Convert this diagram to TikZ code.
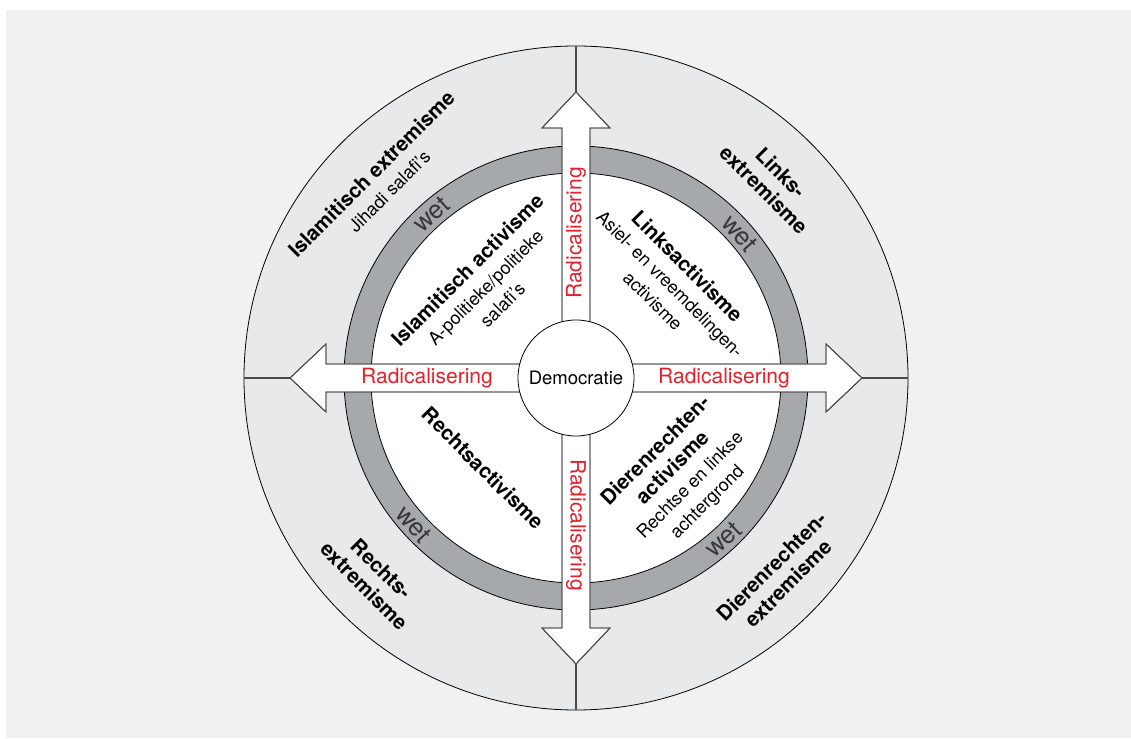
\documentclass[tikz,border=0pt]{standalone}
\usepackage{fontspec}
\setmainfont{TeX Gyre Heros}

\definecolor{bgGray}{HTML}{F0F1F0}
\definecolor{ringLight}{HTML}{E8E9EA}
\definecolor{ringDark}{HTML}{A6A9AC}
\definecolor{radRed}{HTML}{E5202B}
\definecolor{edgeGray}{HTML}{4A4A4A}

\newcommand{\labelbold}{\fontsize{20.5}{24}\selectfont\bfseries}
\newcommand{\labelsub}{\fontsize{18}{21}\selectfont\mdseries}

\tikzset{
	ringline/.style={draw=black, line width=0.8pt},
	armbox/.style={draw=edgeGray, fill=white, line width=0.9pt, line join=miter},
	divider/.style={draw=edgeGray, line width=1.2pt},
	block/.style={align=center, inner sep=0pt, font=\labelbold},
	wetlabel/.style={font=\fontsize{25.5}{25.5}\selectfont, text=black!78, inner sep=0pt},
	radlabel/.style={font=\fontsize{21}{21}\selectfont, text=radRed, inner sep=0pt}
}

\begin{document}
\begin{tikzpicture}[x=1pt, y=1pt]
	\useasboundingbox (-576,-360) rectangle (555,378);
	\fill[bgGray] (-570,-360) rectangle (555,368);

	\draw[ringline, fill=ringLight] (0,0) circle (332);
	\draw[ringline, fill=ringDark] (0,0) circle (232);
	\draw[ringline, fill=white] (0,0) circle (205);

	\foreach \a/\n in {90/N,180/W,0/E,270/S}{%
		\coordinate (tip-\n) at (\a:286);
		\coordinate (rim-\n) at (\a:332);
		\draw[divider] (tip-\n) -- (rim-\n);
		\fill[armbox, rotate=\a] (40,-14) -- (250,-14) -- (250,-34) -- (286,0) -- (250,34) -- (250,14) -- (40,14) -- cycle;
		\draw[armbox, fill=none, rotate=\a] (40,-14) -- (250,-14) -- (250,-34) -- (286,0) -- (250,34) -- (250,14) -- (40,14);
	}

	\node[circle, draw=black, line width=0.8pt, fill=white, minimum size=116pt, inner sep=0pt,
		font=\fontsize{18.5}{18.5}\selectfont] (demo) at (0,0) {Democratie};

	\node[radlabel, rotate=90] (rad-N) at (0,145) {Radicalisering};
	\node[radlabel] (rad-W) at (-149,0) {Radicalisering};
	\node[radlabel] (rad-E) at (148,0) {Radicalisering};
	\node[radlabel, rotate=-90] (rad-S) at (0,-147) {Radicalisering};

	\node[wetlabel, rotate=41.4] (wet-NW) at (131.4:218.5) {wet};
	\node[wetlabel, rotate=-48.6] (wet-NE) at (41.4:218.5) {wet};
	\node[wetlabel, rotate=-48] (wet-SW) at (222:218.5) {wet};
	\node[wetlabel, rotate=42.4] (wet-SE) at (-47.6:218.5) {wet};

	\node[block, rotate=45] (isl-ext) at (135:277) {Islamitisch extremisme\\ \labelsub Jihadi salafi's};
	\node[block, rotate=45] (isl-act) at (135:129) {Islamitisch activisme\\ \labelsub A-politieke/politieke\\ \labelsub salafi's};
	\node[block, rotate=-45] (links-ext) at (45:278.5) {Links-\\ extremisme};
	\node[block, rotate=-45] (links-act) at (45:134) {Linksactivisme\\ \labelsub Asiel- en vreemdelingen-\\ \labelsub activisme};
	\node[block, rotate=-45] (rechts-ext) at (224.5:284.5) {Rechts-\\ extremisme};
	\node[block, rotate=-45] (rechts-act) at (224:129) {Rechtsactivisme};
	\node[block, rotate=45] (dier-ext) at (-44:283.5) {Dierenrechten-\\ extremisme};
	\node[block, rotate=45] (dier-act) at (-43:144.5) {Dierenrechten-\\ activisme\\ \labelsub Rechtse en linkse\\ \labelsub achtergrond};
\end{tikzpicture}
\end{document}
